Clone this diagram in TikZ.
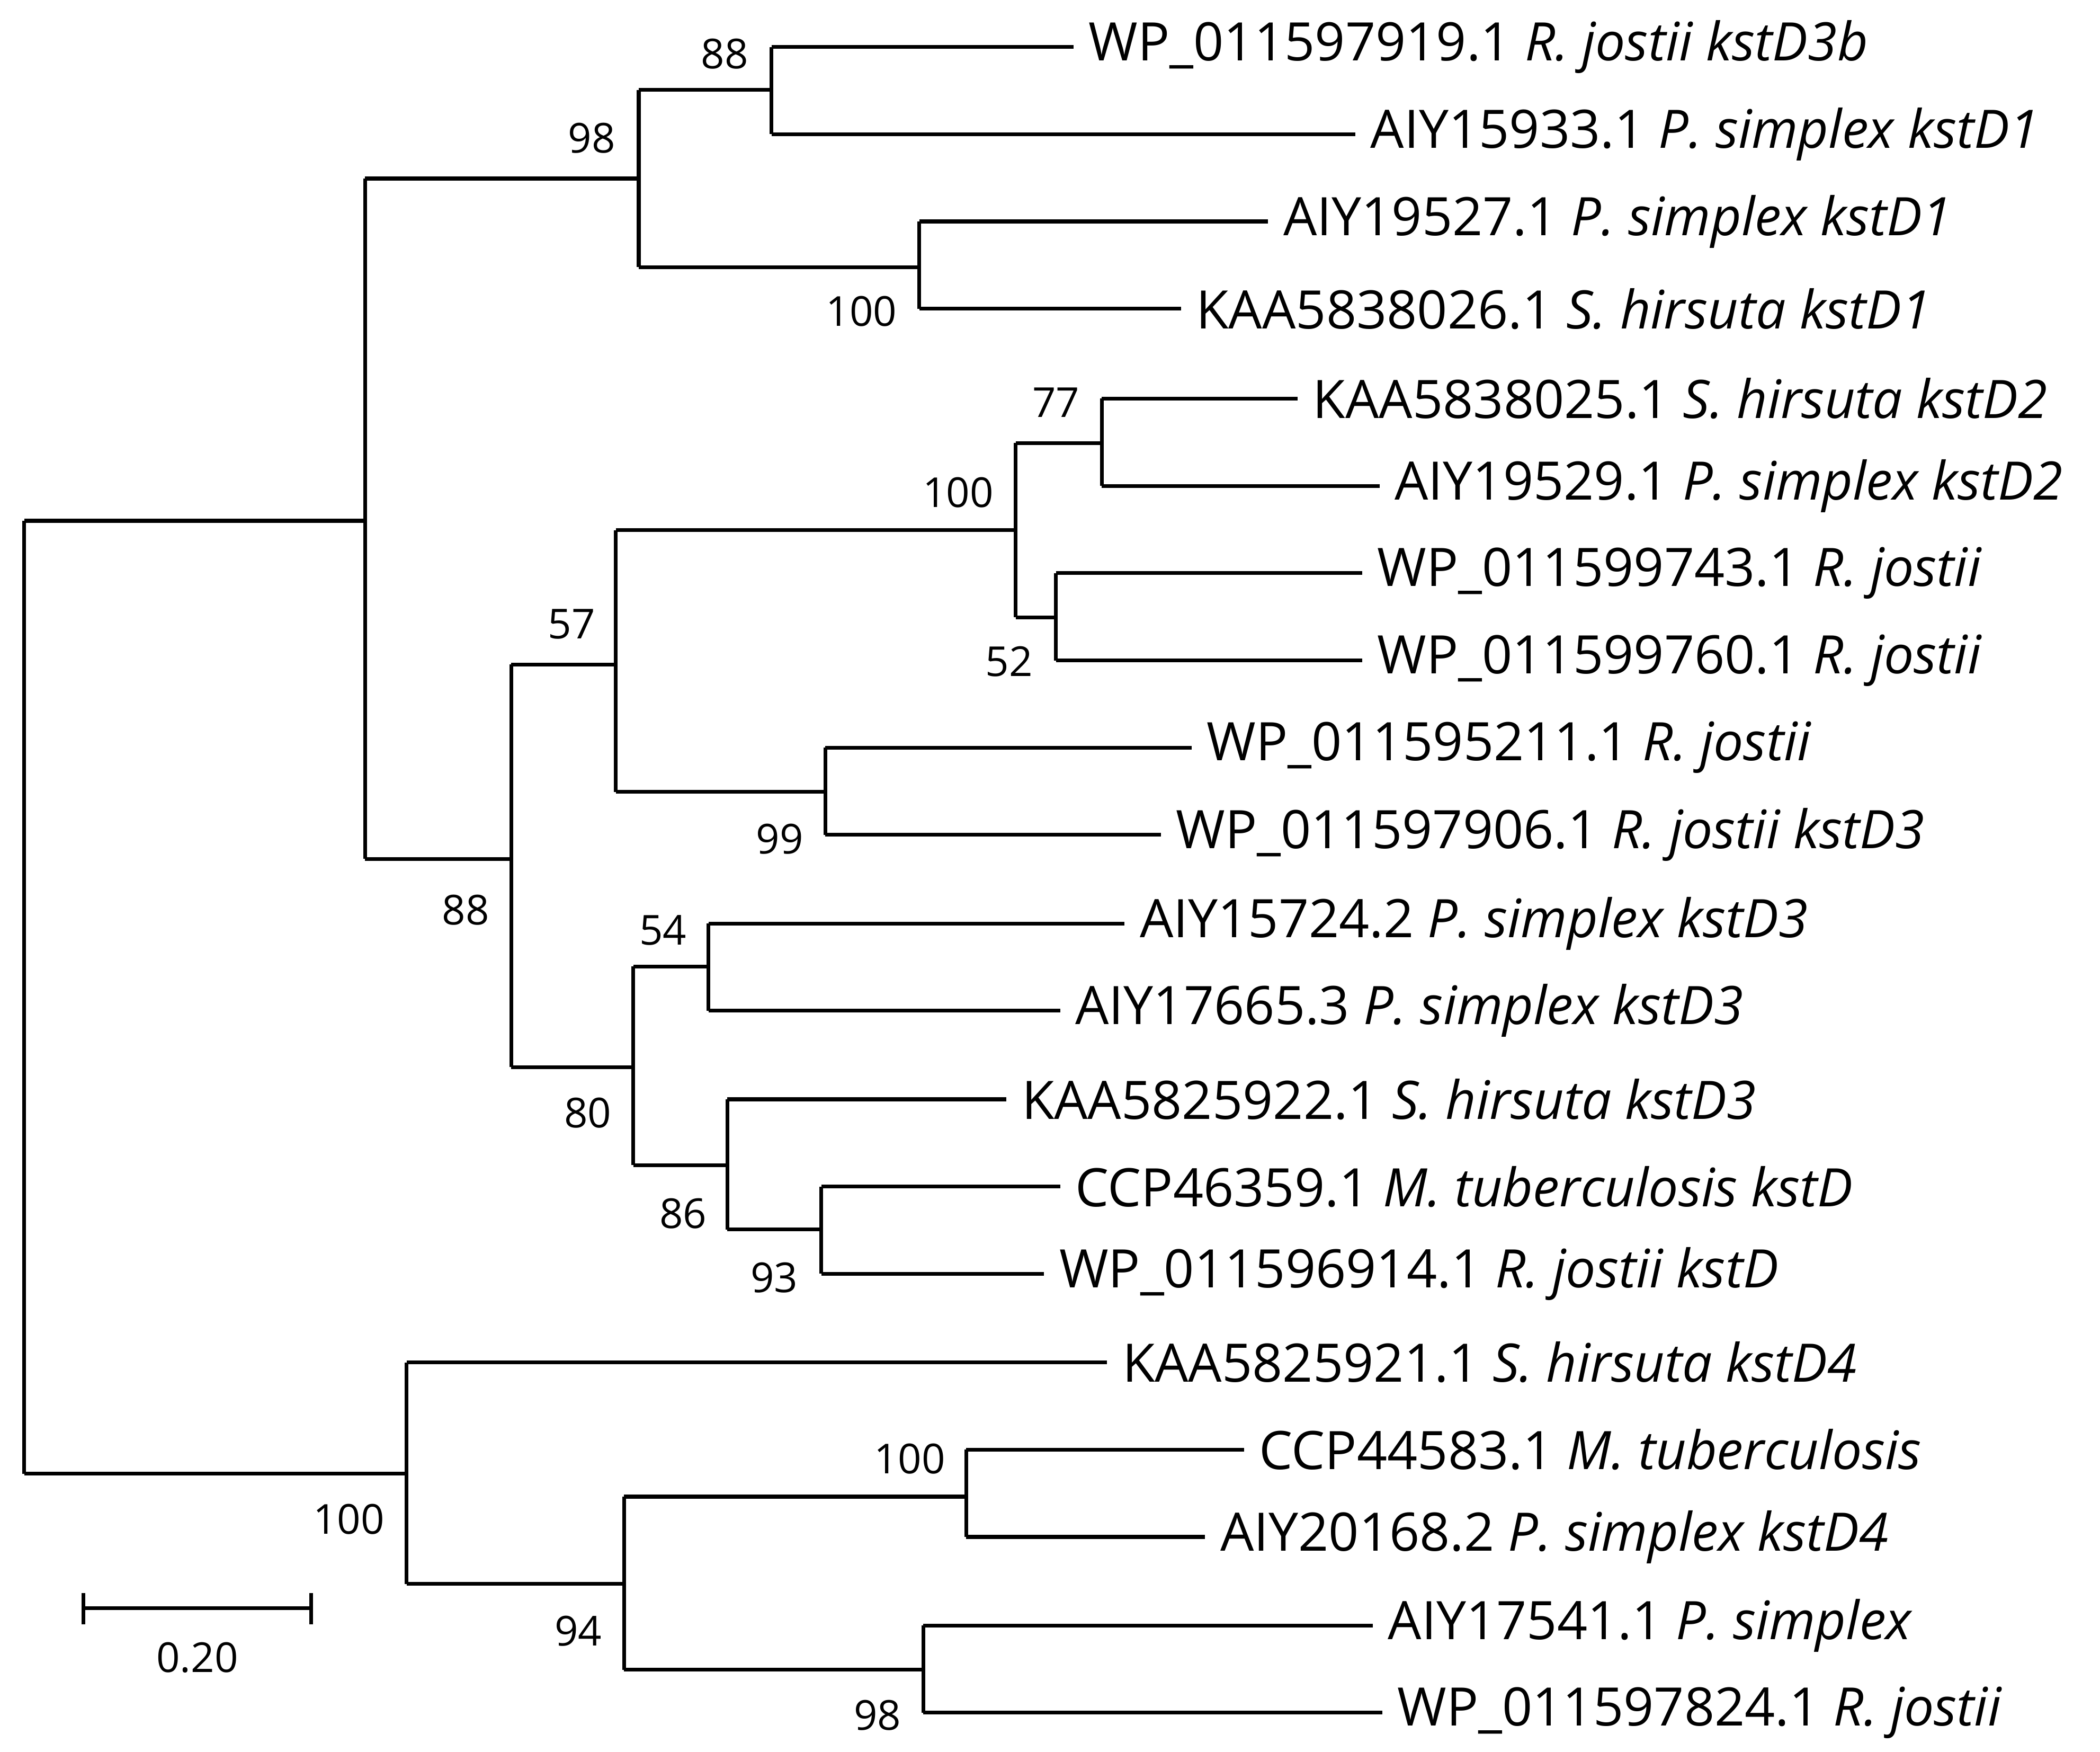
\documentclass[tikz,border=0pt]{standalone}
\usepackage{fontspec}
\setmainfont{Open Sans}
\begin{document}
\begin{tikzpicture}[x=0.02cm,y=-0.02cm,line width=1.6pt,
  tip/.style={anchor=west,inner sep=0pt,font=\fontsize{22.5}{25}\selectfont},
  bs/.style={inner sep=0pt,font=\fontsize{17.5}{20}\selectfont}]
\useasboundingbox (0,0) rectangle (1565,1305);
% tips
\foreach \n/\x/\y/\a/\b in {
 1/810/35/WP\_011597919.1/R. jostii kstD3b,
 2/1020/100/AIY15933.1/P. simplex kstD1,
 3/955/165/AIY19527.1/P. simplex kstD1,
 4/890/230/KAA5838026.1/S. hirsuta kstD1,
 5/977/297/KAA5838025.1/S. hirsuta kstD2,
 6/1038/362/AIY19529.1/P. simplex kstD2,
 7/1025/427/WP\_011599743.1/R. jostii,
 8/1025/492/WP\_011599760.1/R. jostii,
 9/898/557/WP\_011595211.1/R. jostii,
 10/875/622/WP\_011597906.1/R. jostii kstD3,
 11/848/688/AIY15724.2/P. simplex kstD3,
 12/800/753/AIY17665.3/P. simplex kstD3,
 13/760/819/KAA5825922.1/S. hirsuta kstD3,
 14/800/884/CCP46359.1/M. tuberculosis kstD,
 15/788/949/WP\_011596914.1/R. jostii kstD,
 16/835/1015/KAA5825921.1/S. hirsuta kstD4,
 17/937/1080/CCP44583.1/M. tuberculosis,
 18/908/1145/AIY20168.2/P. simplex kstD4,
 19/1033/1211/AIY17541.1/P. simplex,
 20/1040/1276/WP\_011597824.1/R. jostii}
 \node[tip] (t\n) at (\x,\y) {\a\ \textit{\b}};
% internal nodes (x, top, bottom)
\foreach \n/\x/\t/\b in {root/18/388/1098, A/272/133/640, B/476/67/199, C/575/35/100,
 D/685/165/230, E/381/495/795, F/459/395/590, G/757/330/460, H/821/297/362,
 I/787/427/492, J/615/557/622, K/472/720/868, L/528/688/753, M/542/819/916,
 N/612/884/949, O/303/1015/1180, P/465/1115/1244, Q/720/1080/1145, R/688/1211/1276}
 {\coordinate (\n t) at (\x,\t); \coordinate (\n b) at (\x,\b); \draw (\n t) -- (\n b);}
% branches to internal nodes
\draw (roott) -- (272,388);
\draw (rootb) -- (303,1098);
\draw (At) -- (476,133);
\draw (Ab) -- (381,640);
\draw (Bt) -- (575,67);
\draw (Bb) -- (685,199);
\draw (Et) -- (459,495);
\draw (Eb) -- (472,795);
\draw (Ft) -- (757,395);
\draw (Fb) -- (615,590);
\draw (Gt) -- (821,330);
\draw (Gb) -- (787,460);
\draw (Kt) -- (528,720);
\draw (Kb) -- (542,868);
\draw (Mb) -- (612,916);
\draw (Ob) -- (465,1180);
\draw (Pt) -- (720,1115);
\draw (Pb) -- (688,1244);
% branches to tips
\foreach \c/\t in {Ct/1,Cb/2,Dt/3,Db/4,Ht/5,Hb/6,It/7,Ib/8,Jt/9,Jb/10,Lt/11,Lb/12,Mt/13,Nt/14,Nb/15,Ot/16,Qt/17,Qb/18,Rt/19,Rb/20}
 \draw (\c) -- ([xshift=-10*0.02cm]t\t.west);
% bootstrap labels
\foreach \x/\y/\v in {540/40/88, 441/103/98, 642/232/100, 787/300/77, 714/367/100,
 752/493/52, 426/465/57, 581/625/99, 347/678/88, 494/693/54, 438/829/80, 509/904/86,
 577/952/93, 260/1132/100, 431/1215/94, 678/1087/100, 654/1278/98}
 \node[bs] at (\x,\y) {\v};
% scale bar
\coordinate (s1) at (62,1198); \coordinate (s2) at (232,1198);
\draw (s1) -- (s2);
\draw (62,1187) -- (62,1210); \draw (232,1187) -- (232,1210);
\node[bs] at (147,1235) {0.20};
\end{tikzpicture}
\end{document}
